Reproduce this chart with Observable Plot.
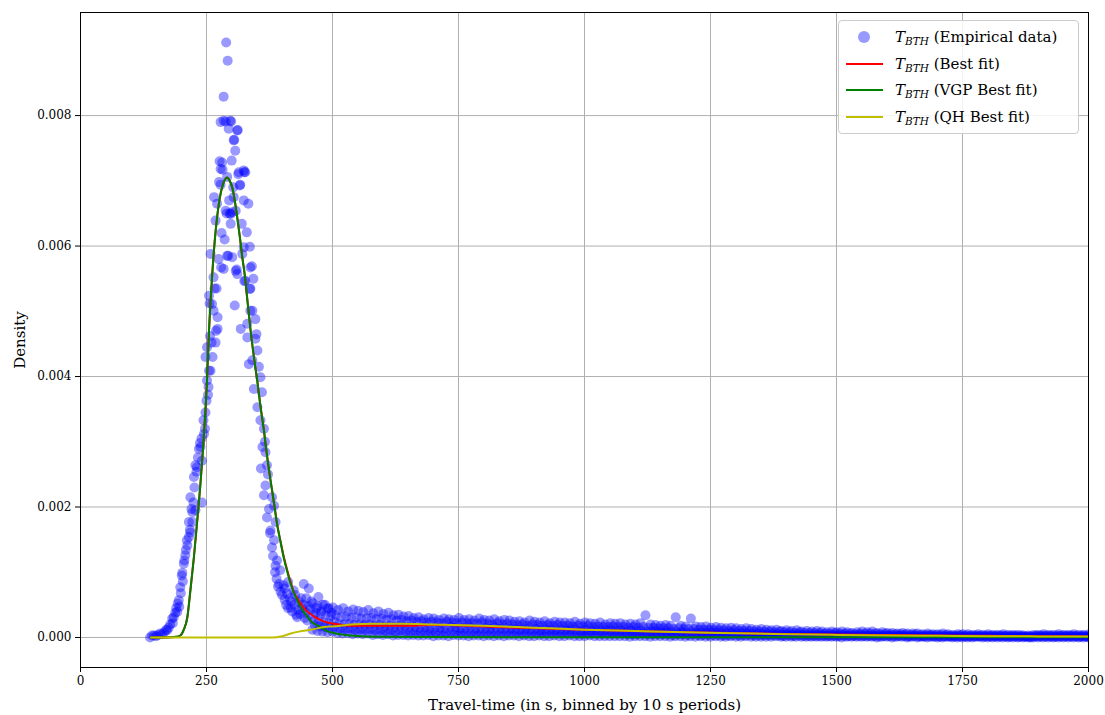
<!DOCTYPE html>
<html>
<head>
<meta charset="utf-8">
<script src="https://cdn.jsdelivr.net/npm/d3@7"></script>
<script src="https://cdn.jsdelivr.net/npm/@observablehq/plot@0.6"></script>
<style>
  html, body { margin: 0; padding: 0; background: white; }
  #wrap { position: relative; width: 1105px; height: 715px; }
  #legend {
    position: absolute; left: 838px; top: 20px; width: 239px; height: 112px;
    border: 1px solid #cccccc; border-radius: 4px; background: rgba(255,255,255,0.85);
    font-family: "DejaVu Serif", serif; font-size: 15px; color: #000;
  }
  .row { position: absolute; left: 0; height: 20px; width: 100%; }
  .row .txt { position: absolute; left: 56px; top: 0; line-height: 20px; white-space: nowrap; }
  .row .ln { position: absolute; left: 7px; width: 37px; height: 2px; top: 9px; }
  .row .dot { position: absolute; left: 19px; top: 4px; width: 12px; height: 12px; border-radius: 50%; background: #9999ff; }
  sub { font-size: 10.5px; vertical-align: -3px; }
</style>
</head>
<body>
<div id="wrap">
  <div id="chart"></div>
  <div id="legend"></div>
</div>
<script>
// ---------- Empirical data: peak region (travel-time s, density) ----------
const peakX = [138,142,146,150,154,158,162,166,170,172,175,178,182,183,185,188,190,192,193,195,196,198,199,201,202,203,205,206,208,209,211,212,215,215,217,218,218,220,222,222,224,225,226,228,228,230,231,233,235,237,238,240,241,241,244,245,247,248,248,250,251,251,253,254,255,255,256,257,258,258,260,261,262,264,264,265,266,268,268,269,270,271,272,272,274,275,276,278,278,278,279,280,281,282,284,284,284,286,288,288,289,290,291,291,292,293,294,295,296,297,298,298,299,300,301,301,303,304,304,305,306,307,308,308,310,311,311,312,313,314,316,317,318,320,321,324,324,324,325,325,327,327,330,331,331,333,334,336,336,337,337,337,340,341,341,343,344,347,347,349,351,351,354,357,357,358,360,361,364,364,366,367,367,370,370,372,374,376,377,380,380,382,384,384,386,387,387,389,390,392,394,396,397,400,403,405,405,408,410,412,412,415,417,418,420,423,425,426,428,430,432,433,436,438,440,442,443,445,447,448,450,452,453,455,458,462,468,472,478,485,492,498];
const peakY = [0.00000,0.00003,0.00003,0.00002,0.00004,0.00006,0.00005,0.00008,0.00012,0.00011,0.00015,0.00020,0.00029,0.00022,0.00031,0.00038,0.00045,0.00039,0.00052,0.00057,0.00047,0.00077,0.00068,0.00095,0.00099,0.00086,0.00113,0.00118,0.00126,0.00134,0.00149,0.00141,0.00154,0.00177,0.00165,0.00161,0.00215,0.00197,0.00177,0.00192,0.00207,0.00246,0.00230,0.00195,0.00264,0.00254,0.00261,0.00276,0.00289,0.00298,0.00292,0.00305,0.00271,0.00207,0.00333,0.00312,0.00320,0.00345,0.00430,0.00363,0.00394,0.00445,0.00372,0.00384,0.00409,0.00524,0.00512,0.00462,0.00588,0.00409,0.00452,0.00511,0.00430,0.00552,0.00501,0.00675,0.00535,0.00639,0.00452,0.00470,0.00535,0.00665,0.00491,0.00473,0.00580,0.00698,0.00730,0.00718,0.00790,0.00694,0.00567,0.00620,0.00728,0.00717,0.00792,0.00829,0.00565,0.00610,0.00654,0.00791,0.00912,0.00650,0.00706,0.00585,0.00884,0.00585,0.00780,0.00670,0.00650,0.00792,0.00649,0.00634,0.00791,0.00731,0.00652,0.00583,0.00690,0.00762,0.00675,0.00763,0.00509,0.00746,0.00654,0.00562,0.00564,0.00777,0.00557,0.00778,0.00710,0.00713,0.00693,0.00694,0.00473,0.00634,0.00588,0.00716,0.00670,0.00598,0.00713,0.00546,0.00547,0.00713,0.00621,0.00460,0.00481,0.00665,0.00419,0.00599,0.00534,0.00535,0.00567,0.00501,0.00569,0.00501,0.00425,0.00550,0.00381,0.00458,0.00488,0.00465,0.00440,0.00353,0.00415,0.00399,0.00333,0.00259,0.00376,0.00292,0.00320,0.00218,0.00300,0.00284,0.00233,0.00264,0.00184,0.00250,0.00197,0.00160,0.00164,0.00215,0.00138,0.00125,0.00202,0.00149,0.00100,0.00177,0.00110,0.00090,0.00118,0.00078,0.00082,0.00103,0.00070,0.00065,0.00080,0.00058,0.00075,0.00050,0.00067,0.00045,0.00085,0.00060,0.00046,0.00055,0.00040,0.00072,0.00050,0.00065,0.00035,0.00031,0.00042,0.00055,0.00036,0.00060,0.00045,0.00050,0.00082,0.00030,0.00038,0.00060,0.00026,0.00048,0.00075,0.00042,0.00055,0.00035,0.00045,0.00062,0.00040,0.00050,0.00045,0.00038];

// ---------- Empirical data: tail, 10 s bins from 460 s to 2000 s ----------
// five observed densities per bin, in units of 1e-4
const TAIL_UNIT = 1e-4;
const tailBins = d3.range(460, 2001, 10);
const tailHi = [
5.2,4.8,5.0,4.4,4.6,4.2,4.5,4.0,4.3,4.1,
3.9,4.2,3.7,4.0,3.6,3.8,3.4,3.5,3.2,3.3,
3.0,3.1,2.8,3.0,2.9,2.7,2.9,2.8,2.7,3.0,
2.7,2.8,2.6,2.9,2.7,2.6,2.8,2.5,2.7,2.6,
2.4,2.5,2.3,2.6,2.4,2.3,2.5,2.2,2.4,2.3,
2.3,2.2,2.4,2.1,2.3,2.2,2.1,2.3,2.0,2.2,
2.1,2.2,2.0,2.1,2.0,2.2,3.4,2.0,1.9,1.8,
1.9,1.8,3.1,1.8,1.7,2.9,1.7,1.6,1.7,1.5,
1.6,1.5,1.4,1.5,1.4,1.3,1.4,1.3,1.2,1.3,
1.2,1.1,1.2,1.0,1.1,1.0,1.1,0.9,1.0,0.9,
1.0,0.9,0.8,0.9,0.8,0.9,0.8,0.7,0.8,0.9,
0.8,0.9,0.7,0.8,0.7,0.7,0.6,0.7,0.6,0.6,
0.6,0.5,0.6,0.5,0.5,0.6,0.5,0.4,0.5,0.5,
0.5,0.4,0.5,0.4,0.5,0.4,0.4,0.5,0.4,0.4,
0.4,0.3,0.3,0.4,0.4,0.5,0.4,0.4,0.5,0.4,
0.4,0.5,0.4,0.4,0.5];
const tailUpper = [
3.8,3.6,3.5,3.3,3.4,3.1,3.2,3.0,3.1,2.9,
2.9,3.0,2.8,2.9,2.7,2.8,2.6,2.7,2.5,2.6,
2.4,2.5,2.3,2.4,2.3,2.2,2.4,2.3,2.2,2.3,
2.2,2.2,2.1,2.3,2.1,2.0,2.2,2.0,2.1,2.0,
1.9,2.0,1.8,2.0,1.9,1.8,1.9,1.8,1.9,1.8,
1.8,1.7,1.8,1.7,1.8,1.6,1.7,1.6,1.6,1.7,
1.6,1.6,1.5,1.6,1.5,1.6,1.5,1.5,1.4,1.4,
1.4,1.3,1.4,1.3,1.3,1.3,1.2,1.2,1.2,1.1,
1.1,1.1,1.0,1.1,1.0,1.0,1.0,0.9,0.9,0.9,
0.9,0.8,0.9,0.8,0.8,0.7,0.8,0.7,0.7,0.7,
0.7,0.6,0.6,0.7,0.6,0.6,0.6,0.5,0.6,0.6,
0.6,0.6,0.5,0.6,0.5,0.5,0.5,0.5,0.4,0.5,
0.4,0.4,0.4,0.4,0.4,0.4,0.3,0.3,0.4,0.3,
0.3,0.3,0.3,0.3,0.3,0.3,0.3,0.3,0.3,0.3,
0.3,0.2,0.2,0.3,0.3,0.3,0.3,0.3,0.3,0.3,
0.3,0.3,0.3,0.2,0.3];
const tailMid = [
2.6,2.5,2.3,2.2,2.4,2.1,2.0,2.1,1.9,2.0,
1.9,2.0,1.8,1.9,1.7,1.8,1.6,1.8,1.7,1.6,
1.6,1.5,1.6,1.4,1.5,1.5,1.4,1.6,1.5,1.4,
1.4,1.5,1.3,1.4,1.4,1.3,1.5,1.3,1.4,1.3,
1.3,1.2,1.3,1.2,1.3,1.1,1.2,1.2,1.1,1.2,
1.1,1.2,1.1,1.0,1.1,1.0,1.1,1.0,1.1,1.0,
1.0,1.0,0.9,1.0,0.9,1.0,0.9,0.9,0.9,0.8,
0.8,0.8,0.8,0.8,0.7,0.8,0.7,0.7,0.7,0.7,
0.7,0.6,0.6,0.7,0.6,0.6,0.6,0.5,0.6,0.5,
0.5,0.5,0.5,0.4,0.5,0.4,0.5,0.4,0.4,0.4,
0.4,0.4,0.3,0.4,0.3,0.4,0.3,0.3,0.4,0.3,
0.3,0.3,0.3,0.3,0.3,0.3,0.3,0.3,0.2,0.3,
0.2,0.2,0.3,0.2,0.2,0.2,0.2,0.2,0.2,0.2,
0.2,0.2,0.2,0.2,0.2,0.2,0.2,0.2,0.1,0.2,
0.1,0.1,0.1,0.2,0.2,0.2,0.2,0.1,0.2,0.2,
0.2,0.2,0.1,0.2,0.2];
const tailLowMid = [
1.9,1.7,1.6,1.5,1.6,1.4,1.3,1.4,1.2,1.3,
1.2,1.3,1.1,1.2,1.0,1.1,0.9,1.1,1.0,0.9,
1.0,0.9,0.9,0.9,0.8,0.9,0.8,0.9,0.9,0.8,
0.8,0.8,0.7,0.8,0.8,0.7,0.8,0.7,0.8,0.7,
0.8,0.7,0.8,0.7,0.7,0.7,0.7,0.7,0.7,0.7,
0.6,0.7,0.6,0.6,0.6,0.6,0.6,0.6,0.6,0.6,
0.6,0.6,0.5,0.5,0.5,0.6,0.5,0.5,0.5,0.5,
0.5,0.4,0.5,0.5,0.4,0.5,0.4,0.4,0.4,0.4,
0.4,0.3,0.3,0.4,0.3,0.3,0.4,0.3,0.3,0.3,
0.3,0.3,0.3,0.2,0.3,0.2,0.3,0.2,0.2,0.2,
0.2,0.2,0.2,0.2,0.2,0.2,0.2,0.2,0.2,0.2,
0.2,0.2,0.1,0.2,0.2,0.1,0.2,0.2,0.1,0.2,
0.1,0.1,0.1,0.1,0.1,0.1,0.1,0.1,0.1,0.1,
0.1,0.1,0.1,0.1,0.1,0.1,0.1,0.1,0.1,0.1,
0.1,0.1,0.0,0.1,0.1,0.1,0.1,0.1,0.1,0.1,
0.1,0.1,0.1,0.1,0.1];
const tailLo = [
1.2,1.0,0.9,0.8,0.9,0.7,0.6,0.7,0.5,0.6,
0.5,0.6,0.4,0.5,0.4,0.5,0.3,0.4,0.4,0.3,
0.4,0.3,0.3,0.4,0.2,0.3,0.3,0.2,0.4,0.3,
0.3,0.2,0.3,0.3,0.2,0.3,0.2,0.3,0.2,0.3,
0.3,0.2,0.3,0.2,0.2,0.3,0.2,0.2,0.3,0.2,
0.2,0.3,0.2,0.2,0.2,0.3,0.2,0.2,0.2,0.2,
0.2,0.2,0.2,0.1,0.2,0.2,0.2,0.1,0.2,0.2,
0.2,0.1,0.2,0.2,0.1,0.2,0.1,0.2,0.1,0.1,
0.2,0.1,0.1,0.2,0.1,0.1,0.2,0.1,0.1,0.1,
0.1,0.1,0.2,0.1,0.1,0.1,0.1,0.1,0.1,0.1,
0.1,0.1,0.1,0.1,0.1,0.0,0.1,0.1,0.1,0.1,
0.1,0.1,0.0,0.1,0.1,0.0,0.1,0.1,0.0,0.1,
0.0,0.1,0.0,0.1,0.0,0.0,0.1,0.0,0.0,0.0,
0.0,0.0,0.1,0.0,0.0,0.0,0.0,0.0,0.0,0.0,
0.0,0.0,0.0,0.0,0.0,0.0,0.0,0.0,0.0,0.0,
0.0,0.0,0.0,0.0,0.0];

// ---------- Fitted curves ----------
const vgpX = [140,160,180,190,198,205,212,218,225,231,238,245,251,255,261,266,271,276,281,286,291,296,301,306,311,316,321,326,331,337,344,351,357,364,370,377,384,390,397,403,410,417,427,437,447,456,466,476,486,496,516,536,570,600,700,900,1200,1600,2000];
const vgpY = [0,0,0.000003,0.00001,0.00003,0.00012,0.00031,0.00072,0.00123,0.00174,0.00236,0.00312,0.00394,0.00470,0.00552,0.00605,0.00644,0.00672,0.00690,0.00701,0.00705,0.00700,0.00690,0.00670,0.00644,0.00615,0.00583,0.00555,0.00518,0.00474,0.00430,0.00392,0.00355,0.00317,0.00279,0.00241,0.00206,0.00174,0.00146,0.00123,0.00101,0.00082,0.00062,0.00046,0.00035,0.00026,0.00020,0.00016,0.00011,0.00008,0.00005,0.00003,0.000015,0.00001,0.000006,0.000004,0.000003,0.000002,0.000002];

const bestX = [140,160,180,190,198,205,212,218,225,231,238,245,251,255,261,266,271,276,281,286,291,296,301,306,311,316,321,326,331,337,344,351,357,364,370,377,384,390,397,403,410,417,423,430,437,447,456,466,476,490,503,520,536,560,600,635,700,800,900,1000,1100,1200,1300,1400,1500,1600,1700,1800,1900,2000];
const bestY = [0,0,0.000003,0.00001,0.00003,0.00012,0.00031,0.00072,0.00123,0.00174,0.00236,0.00312,0.00394,0.00470,0.00552,0.00605,0.00644,0.00672,0.00690,0.00701,0.00705,0.00700,0.00690,0.00670,0.00644,0.00615,0.00583,0.00555,0.00518,0.00474,0.00430,0.00392,0.00355,0.00317,0.00279,0.00241,0.00206,0.00174,0.00147,0.00125,0.00104,0.00085,0.00070,0.00060,0.00052,0.00042,0.00036,0.00031,0.00027,0.00023,0.00021,0.00019,0.00018,0.00018,0.00018,0.00018,0.00019,0.00017,0.00014,0.00012,0.000098,0.000082,0.000068,0.000055,0.000045,0.000037,0.00003,0.000025,0.00002,0.000017];

const qhX = [140,300,380,400,417,433,450,470,483,500,516,536,582,635,700,800,900,1000,1100,1200,1300,1400,1500,1600,1700,1800,1900,2000];
const qhY = [0,0,0,0.00002,0.00006,0.00009,0.00011,0.00014,0.00016,0.00017,0.00018,0.00020,0.00021,0.00021,0.00020,0.00018,0.00015,0.00012,0.0001,0.00008,0.000065,0.00005,0.00004,0.000032,0.000026,0.00002,0.000017,0.000015];

const xTicks = [0,250,500,750,1000,1250,1500,1750,2000];
const yTicks = [0,0.002,0.004,0.006,0.008];

// ---------- build tables ----------
const emp = peakX.map((x, i) => ({x, y: peakY[i]}));
tailBins.forEach((x, i) => {
  emp.push({x, y: tailLo[i] * TAIL_UNIT});
  emp.push({x: x + 5, y: tailLowMid[i] * TAIL_UNIT});
  emp.push({x: x + 3, y: tailMid[i] * TAIL_UNIT});
  emp.push({x: x + 7, y: tailUpper[i] * TAIL_UNIT});
  emp.push({x: x + 1, y: tailHi[i] * TAIL_UNIT});
});
const vgp = vgpX.map((x, i) => ({x, y: vgpY[i]}));
const best = bestX.map((x, i) => ({x, y: bestY[i]}));
const qh = qhX.map((x, i) => ({x, y: qhY[i]}));

const chart = Plot.plot({
  width: 1105, height: 715,
  marginLeft: 80, marginRight: 17, marginTop: 12, marginBottom: 48,
  style: {fontFamily: "DejaVu Serif, serif", fontSize: "12px", background: "white", color: "black", overflow: "visible"},
  x: {domain: [0, 2000]},
  y: {domain: [-0.00046, 0.00958]},
  marks: [
    Plot.gridX(xTicks, {stroke: "#b0b0b0", strokeOpacity: 1, strokeWidth: 1}),
    Plot.gridY(yTicks, {stroke: "#b0b0b0", strokeOpacity: 1, strokeWidth: 1}),
    Plot.dot(emp, {x: "x", y: "y", r: 5, fill: "#0000ff", fillOpacity: 0.4, stroke: null, clip: true}),
    Plot.line(best, {x: "x", y: "y", stroke: "#ff0000", strokeWidth: 2, curve: "monotone-x", clip: true}),
    Plot.line(vgp, {x: "x", y: "y", stroke: "#008000", strokeWidth: 2, curve: "monotone-x", clip: true}),
    Plot.line(qh, {x: "x", y: "y", stroke: "#bfbf00", strokeWidth: 2, curve: "monotone-x", clip: true}),
    Plot.frame({stroke: "black", strokeWidth: 1}),
    Plot.axisX(xTicks, {tickSize: 5, tickPadding: 4, tickFormat: d3.format("d"), label: "Travel-time (in s, binned by 10 s periods)", labelAnchor: "center", labelArrow: "none", labelOffset: 42, fontSize: 12}),
    Plot.axisY(yTicks, {tickSize: 5, tickPadding: 4, tickFormat: d3.format(".3f"), label: "Density", labelAnchor: "center", labelArrow: "none", labelOffset: 66, fontSize: 12})
  ]
});
document.getElementById("chart").appendChild(chart);

// enlarge axis label font
chart.querySelectorAll("g[aria-label='x-axis label'] text, g[aria-label='y-axis label'] text").forEach(t => t.setAttribute("font-size", "15px"));

// ---------- legend ----------
const legendItems = [
  {kind: "dot", color: "#9999ff", label: "(Empirical data)"},
  {kind: "line", color: "#ff0000", label: "(Best fit)"},
  {kind: "line", color: "#008000", label: "(VGP Best fit)"},
  {kind: "line", color: "#bfbf00", label: "(QH Best fit)"}
];
const lg = document.getElementById("legend");
legendItems.forEach((it, i) => {
  const row = document.createElement("div");
  row.className = "row";
  row.style.top = (6 + i * 26.7) + "px";
  const h = document.createElement("div");
  h.className = it.kind === "dot" ? "dot" : "ln";
  h.style.background = it.color;
  row.appendChild(h);
  const t = document.createElement("div");
  t.className = "txt";
  t.innerHTML = "<i>T</i><sub><i>BTH</i></sub> " + it.label;
  row.appendChild(t);
  lg.appendChild(row);
});
</script>
</body>
</html>
